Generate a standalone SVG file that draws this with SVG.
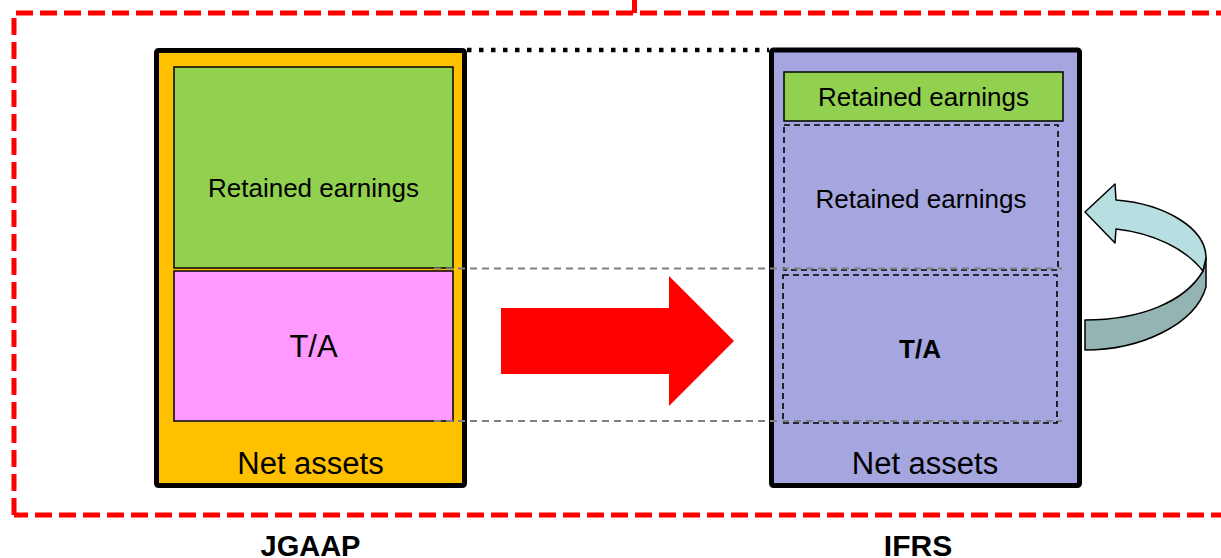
<svg xmlns="http://www.w3.org/2000/svg" width="1221" height="558" viewBox="0 0 1221 558">
<style>
text{font-family:"Liberation Sans",Arial,sans-serif;fill:#000;text-anchor:middle}
.outer{stroke:#000;stroke-width:5;stroke-linejoin:round}
.inner{stroke:#000;stroke-width:1.5}
.dash{fill:none;stroke:#000;stroke-width:1.6;stroke-dasharray:6 4}
.guide{fill:none;stroke:#808080;stroke-width:2;stroke-dasharray:7 5}
.frame{fill:none;stroke:#FF0000;stroke-width:5;stroke-dasharray:17 7}
</style>
<rect width="1221" height="558" fill="#fff"/>
<g id="frame">
<path class="frame" d="M14,515 L14,13 L1230,13"/>
<path class="frame" d="M14,515 L1230,515" stroke-dashoffset="3"/>
<line x1="634.5" y1="0" x2="634.5" y2="13" stroke="#FF0000" stroke-width="5"/>
</g>
<g id="jgaap">
<rect class="outer" x="156.5" y="50.5" width="308" height="435" fill="#FFC000" rx="2"/>
<rect class="inner" x="174" y="67" width="279" height="201" fill="#92D050"/>
<rect class="inner" x="174" y="271" width="279" height="150" fill="#FF99FF"/>
<text x="313.5" y="197" font-size="26">Retained earnings</text>
<text x="313.5" y="357" font-size="31">T/A</text>
<text x="310.5" y="474" font-size="31">Net assets</text>
<text x="310.5" y="556" font-size="29" font-weight="bold">JGAAP</text>
</g>
<g id="ifrs">
<rect class="outer" x="771.5" y="50" width="308" height="435.5" fill="#A5A5DF" rx="2"/>
<rect class="inner" x="784" y="72" width="279" height="49" fill="#92D050"/>
<rect class="dash" x="784" y="125" width="274" height="145"/>
<rect class="dash" x="783" y="275" width="274" height="148"/>
<text x="923.5" y="106" font-size="26">Retained earnings</text>
<text x="921" y="208" font-size="26">Retained earnings</text>
<text x="920" y="358" font-size="26" font-weight="bold">T/A</text>
<text x="925" y="474" font-size="31">Net assets</text>
<text x="918" y="556" font-size="30" font-weight="bold">IFRS</text>
</g>
<g id="connectors">
<line x1="467" y1="50" x2="769" y2="50" stroke="#000" stroke-width="4.5" stroke-dasharray="4.5 7.5"/>
<line class="guide" x1="434" y1="268.5" x2="1062" y2="268.5"/>
<line class="guide" x1="434" y1="421" x2="1062" y2="421"/>
<path d="M501,308 L669,308 L669,276 L734,341 L669,406 L669,374 L501,374 Z" fill="#FF0000"/>
<path d="M1085,320 C1140,320 1185,302 1203,271 L1206,258 L1206,287 C1195,325 1140,350 1085,350 Z" fill="#94B3B3" stroke="#000" stroke-width="1.5" stroke-linejoin="round"/>
<path d="M1085,212 L1115,184 L1116,200 C1165,204 1206,228 1206,258 L1203,271 C1185,248 1152,233 1116,229 L1115,243 Z" fill="#B7DEE0" stroke="#000" stroke-width="1.5" stroke-linejoin="round"/>
</g>
</svg>
